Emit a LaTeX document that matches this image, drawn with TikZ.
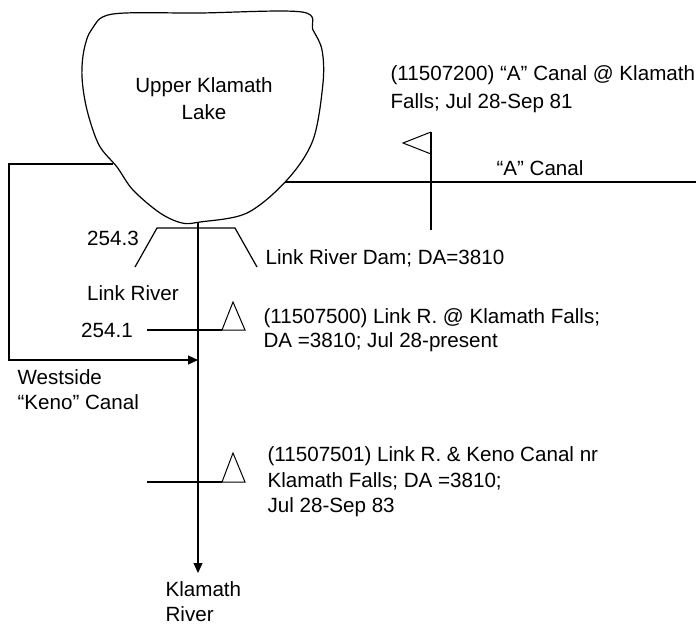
\documentclass[tikz,border=0pt]{standalone}
\usepackage{fontspec}
\setmainfont{Liberation Sans}
\usetikzlibrary{arrows.meta}
\begin{document}
\begin{tikzpicture}[x=1pt,y=-1pt,line width=1.2pt,
  txt/.style={inner sep=0pt,font=\fontsize{20.6}{25}\selectfont,align=left},
  arr/.style={-{Triangle[length=10pt,width=9pt]}},
  gauge/.style={line width=1pt}]
\useasboundingbox (0,0) rectangle (696,625);
% lake
\draw plot[smooth cycle,tension=0.55] coordinates {(113,14) (92,29) (84,50) (82,77) (87,110) (99,145) (117,167) (133,190) (160,213) (182,223) (200,222) (247,213) (287,180) (313,140) (323,83) (322,50) (313,30) (302,12) (200,13)};
\node[txt,align=center,font=\fontsize{20.6}{27}\selectfont] (lake) at (204,98.5) {Upper Klamath\\Lake};
\coordinate (lakeW) at (113,164);
\coordinate (lakeE) at (285,182);
\coordinate (lakeS) at (198,223);
% river
\node[txt,anchor=west,font=\fontsize{20.6}{25}\selectfont] (kr) at (165,602) {Klamath\\River};
\coordinate (outlet) at (198,573);
\draw[arr] (lakeS) -- (outlet);
% dam
\coordinate (damA) at (135,267);
\coordinate (damB) at (157,228);
\coordinate (damC) at (235,228);
\coordinate (damD) at (257,267);
\draw (damA) -- (damB) -- (damC) -- (damD);
\node[txt] (rm1) at (113,238) {254.3};
\node[txt,anchor=west] (dam) at (265,258) {Link River Dam; DA=3810};
\node[txt] (lr) at (133,293) {Link River};
% A canal
\coordinate (aEnd) at (696,182);
\draw (lakeE) -- (aEnd);
\node[txt] (acl) at (540,168) {“A” Canal};
\coordinate (g1t) at (431,132);
\coordinate (g1b) at (431,230);
\draw (g1t) -- (g1b);
\draw[gauge] (g1t) -- (403,143) -- (431,154);
\node[txt,anchor=west,font=\fontsize{20.6}{28}\selectfont] (g1) at (390,89) {(11507200) “A” Canal @ Klamath\\Falls; Jul 28-Sep 81};
% gauge 2
\node[txt] (rm2) at (107,330) {254.1};
\coordinate (g2l) at (147,330);
\coordinate (g2r) at (222,330);
\draw (g2l) -- (g2r);
\draw[gauge] (g2r) -- (245,330) -- (233,302) -- cycle;
\node[txt,anchor=west,font=\fontsize{20.6}{24}\selectfont] (g2) at (263,330) {(11507500) Link R. @ Klamath Falls;\\DA =3810; Jul 28-present};
% westside canal
\coordinate (wc1) at (9,164);
\coordinate (wc2) at (9,360);
\coordinate (wc3) at (198,360);
\draw[arr] (lakeW) -- (wc1) -- (wc2) -- (wc3);
\node[txt,anchor=west] (wc) at (17,389.5) {Westside\\“Keno” Canal};
% gauge 3
\coordinate (g3l) at (147,482);
\coordinate (g3r) at (222,482);
\draw (g3l) -- (g3r);
\draw[gauge] (g3r) -- (245,482) -- (233,453) -- cycle;
\node[txt,anchor=west,font=\fontsize{20.6}{25.5}\selectfont] (g3) at (267,482) {(11507501) Link R. \& Keno Canal nr\\Klamath Falls; DA =3810;\\Jul 28-Sep 83};
\end{tikzpicture}
\end{document}
